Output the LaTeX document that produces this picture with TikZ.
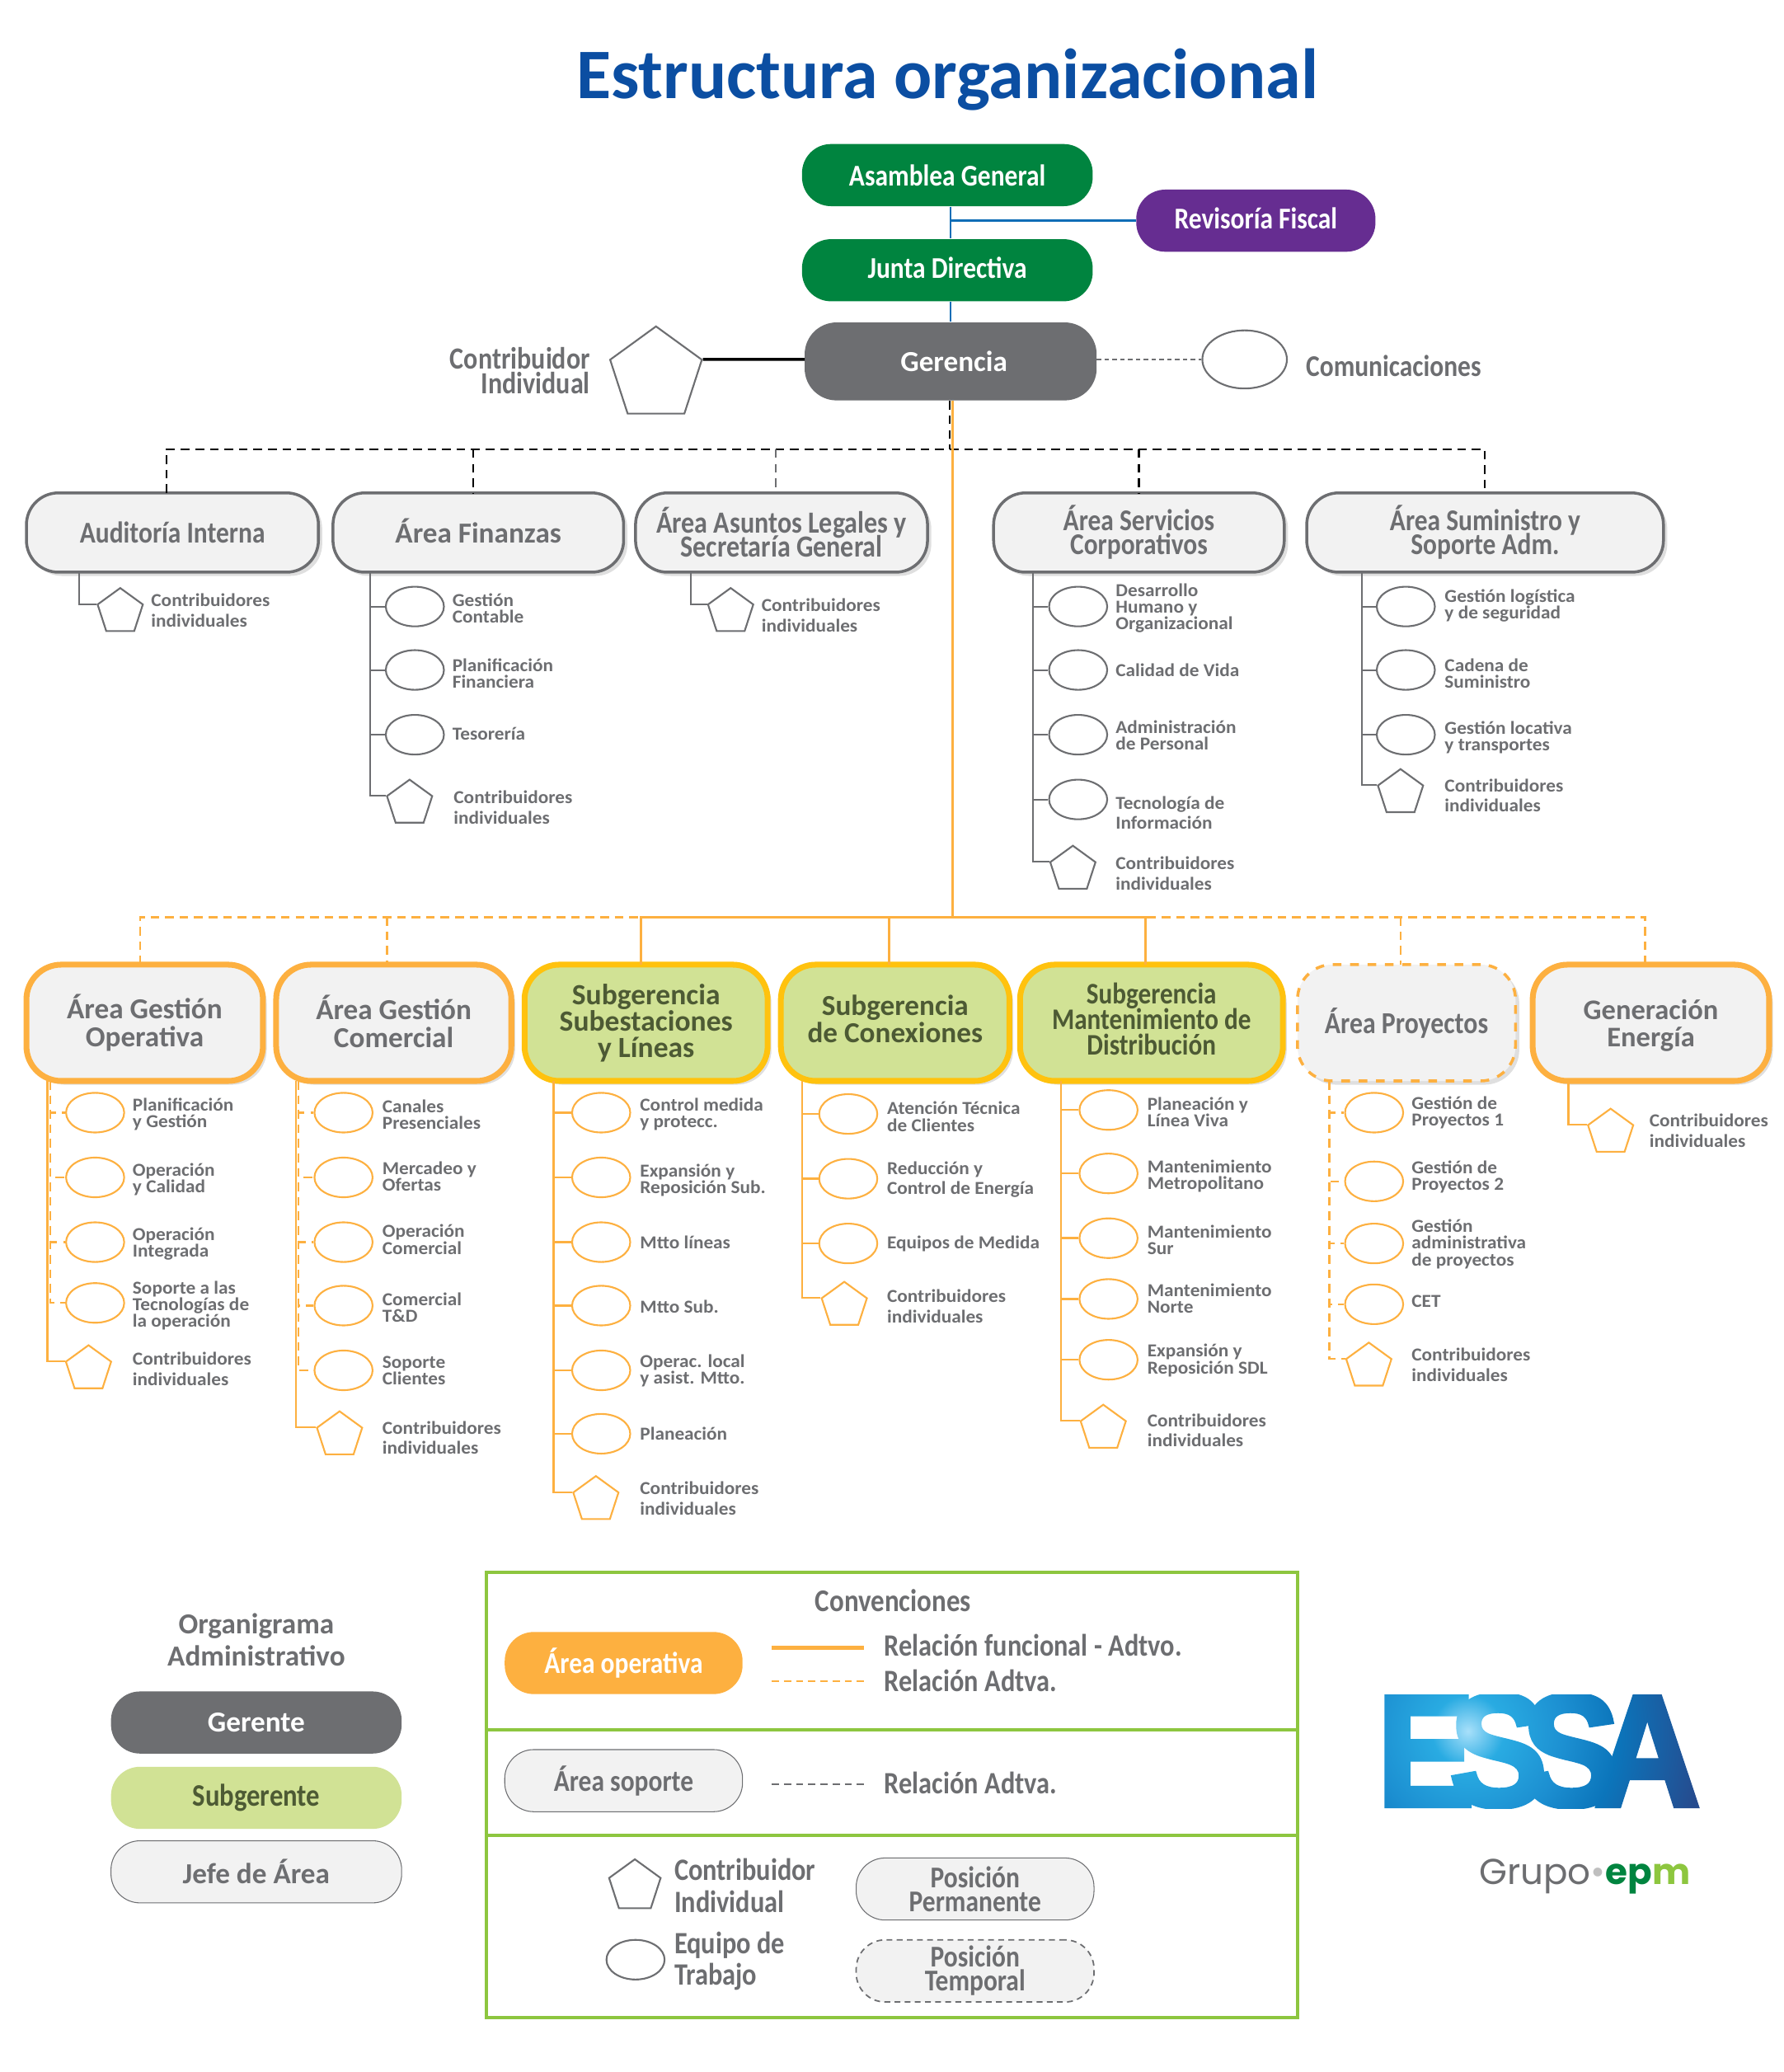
\documentclass[tikz,border=0pt]{standalone}
\usepackage{fontspec}
\setmainfont{Carlito}
\newfontfamily\slim[FakeStretch=0.86]{Carlito}
\newfontfamily\wide[FakeStretch=1.05]{Carlito}
\newfontfamily\essafont[FakeBold=3,FakeStretch=0.92,LetterSpace=-16]{Liberation Sans}
\newfontfamily\grupofont{Poppins}
\usetikzlibrary{shapes.geometric,shadows,fadings}
\definecolor{epmgreen}{HTML}{00843F}
\definecolor{purplefis}{HTML}{662D91}
\definecolor{greygen}{HTML}{6D6E71}
\definecolor{greyfill}{HTML}{F2F2F2}
\definecolor{orangeop}{HTML}{FDB040}
\definecolor{yellowsub}{HTML}{FFC20E}
\definecolor{greensub}{HTML}{D1E295}
\definecolor{olivetxt}{HTML}{4D5A34}
\definecolor{bluelink}{HTML}{0F6DB6}
\definecolor{bluetitle}{HTML}{0B4EA2}
\definecolor{greenconv}{HTML}{8DC63F}
\definecolor{essaa}{HTML}{A8E0FA}
\definecolor{essab}{HTML}{29ABE2}
\definecolor{essac}{HTML}{1C8FD1}
\definecolor{essad}{HTML}{0B75BB}
\definecolor{essae}{HTML}{264B8E}
\def\u{0.016cm}
\lineskiplimit=-20pt
\newcommand{\lblfont}{\wide\bfseries\fontsize{6.3}{5.7}\selectfont}
\newcommand{\topfont}{\slim\bfseries\fontsize{10.4}{8.2}\selectfont}
\newcommand{\plainfont}{\bfseries\fontsize{10}{8.2}\selectfont}
\newcommand{\areafont}{\bfseries\fontsize{10}{9.4}\selectfont}
\pgfdeclareradialshading{essashade}{\pgfpointorigin}{color(0bp)=(essaa);
  color(3.5bp)=(essab);color(9.5bp)=(essac);color(14.5bp)=(essad);color(23bp)=(essae);color(50bp)=(essae)}
\begin{tikzfadingfrompicture}[name=essafade]
  \node[text=transparent!0,inner sep=0pt] {\essafont\bfseries\fontsize{55}{55}\selectfont ESSA};
\end{tikzfadingfrompicture}
\tikzset{
  board/.style={rounded corners=10pt,minimum width=220*\u,minimum height=47*\u,inner sep=0pt,text=white,align=center,font=\topfont},
  softbox/.style={rounded corners=11pt,minimum height=60*\u,inner sep=0pt,fill=greyfill,draw=greygen,line width=1pt,align=center,text=greygen,font=\topfont,
    drop shadow={shadow xshift=1.3pt,shadow yshift=-1.3pt,opacity=.25,fill=gray}},
  areabox/.style={rounded corners=12pt,minimum height=88*\u,inner sep=0pt,fill=greyfill,draw=orangeop,line width=2pt,align=center,text=greygen,font=\areafont,
    drop shadow={shadow xshift=1.3pt,shadow yshift=-1.3pt,opacity=.25,fill=gray}},
  subbox/.style={areabox,fill=greensub,draw=yellowsub,text=olivetxt},
  tempbox/.style={areabox,draw=orangeop,line width=1pt,dashed},
  keypill/.style={rounded corners=10pt,minimum width=220*\u,minimum height=47*\u,inner sep=0pt,align=center,font=\topfont},
  team/.style={ellipse,minimum width=44*\u,minimum height=30*\u,inner sep=0pt,fill=white,draw=#1,line width=.6pt},
  contrib/.style={regular polygon,regular polygon sides=5,minimum size=36*\u,inner sep=0pt,fill=white,draw=#1,line width=.6pt},
  lbl/.style={anchor=west,align=left,inner sep=0pt,text=greygen,font=\lblfont},
  lblc/.style={lbl,font=\wide\bfseries\fontsize{6.3}{7}\selectfont},
  keytxt/.style={anchor=west,align=left,inner sep=0pt,text=greygen,font=\slim\bfseries\fontsize{10.7}{10.9}\selectfont},
  greyl/.style={draw=greygen,line width=.55pt},
  oral/.style={draw=orangeop,line width=.7pt},
  orad/.style={draw=orangeop,line width=.7pt,dash pattern=on 3pt off 2pt},
  blackd/.style={draw=black,line width=.6pt,dash pattern=on 3pt off 2pt}
}
\begin{document}
\begin{tikzpicture}[x=\u,y=-\u]
  \useasboundingbox (0,0) rectangle (1350,1568);
  \node[text=bluetitle,font=\bfseries\fontsize{24.5}{25}\selectfont,inner sep=0pt] (title) at (717,60) {Estructura organizacional};

  % direccion
  \node[board,fill=epmgreen] (asam) at (717,132.5) {Asamblea General};
  \node[board,fill=purplefis,minimum width=181*\u,text depth=1.8pt] (revi) at (950.5,167) {Revisoría Fiscal};
  \node[board,fill=epmgreen,text depth=1.8pt] (junta) at (717,204.5) {Junta Directiva};
  \node[board,fill=greygen,minimum width=221*\u,minimum height=59*\u,rounded corners=11pt,font=\areafont,text depth=0pt] (gere) at (719.5,273.5) {\hspace*{0.08cm}Gerencia};
  \draw[draw=bluelink,line width=.7pt] (asam.south -| gere.north) -- (junta.north -| gere.north);
  \draw[draw=bluelink,line width=.7pt] (junta.south -| gere.north) -- (gere.north);
  \draw[draw=bluelink,line width=1pt] (revi.west) -- (revi.west -| gere.north);
  \node[contrib=greygen,minimum size=73*\u] (contr) at (496.5,283.5) {};
  \coordinate (contrin) at (609,272);
  \draw[line width=1pt] (contr.corner 5) -- (contrin);
  \node[keytxt,anchor=east,align=right,font=\slim\bfseries\fontsize{10.6}{8.7}\selectfont] (contrl) at (447,280.5) {Contribuidor\\Individual};
  \node[team=greygen,minimum width=64*\u,minimum height=44*\u] (comu) at (942,272) {};
  \node[keytxt,font=\slim\bfseries\fontsize{10.4}{10}\selectfont] (comul) at (988,277) {Comunicaciones};
  \coordinate (comuout) at (830,272);
  \draw[greyl,dash pattern=on 1.6pt off 1.1pt] (comuout) -- (comu);

  % areas de soporte
  \node[softbox,minimum width=221*\u] (audi) at (130.5,403) {Auditoría Interna};
  \node[softbox,minimum width=220*\u,font=\plainfont,text depth=1.5pt] (fina) at (362,403) {Área Finanzas};
  \node[softbox,minimum width=221*\u,font=\slim\bfseries\fontsize{10.6}{8.2}\selectfont] (lega) at (591.5,403) {Área Asuntos Legales y\\Secretaría General};
  \node[softbox,minimum width=220*\u] (serv) at (862,403) {Área Servicios\\Corporativos};
  \node[softbox,minimum width=270*\u] (sumi) at (1124,403) {Área Suministro y\\Soporte Adm.};
  \coordinate (blkbus) at (719,340);
  \coordinate (auditop) at (126,373);
  \coordinate (sumitop) at (1124,373);
  \draw[blackd] (auditop) |- (blkbus) -| (sumitop);
  \draw[blackd] (gere.south -| blkbus) -- (blkbus);
  \coordinate (finatop) at (358,373);
  \coordinate (legatop) at (587,373);
  \coordinate (servtop) at (862,373);
  \draw[blackd] (finatop |- blkbus) -- (finatop);
  \draw[blackd,draw=greygen] (legatop |- blkbus) -- (legatop);
  \draw[blackd] (servtop |- blkbus) -- (servtop);

  \coordinate (audit) at (60,433);
  \node[contrib=greygen] (audc) at (91,463) {};
  \node[lblc] (audl) at (114,462) {Contribuidores\\individuales};
  \draw[greyl] (audit) |- (audc.corner 2);

  \coordinate (finat) at (280,433);
  \foreach \n/\y/\ty/\txt in {1/459/460.5/{Gestión\\Contable},2/507/509.5/{Planificación\\Financiera},3/556/555/{Tesorería}} {
    \node[team=greygen] (fin\n) at (314,\y) {};
    \node[lbl] (finl\n) at (342,\ty) {\txt};
    \draw[greyl] (finat) |- (fin\n);
  }
  \node[contrib=greygen] (finc) at (310,608) {};
  \node[lblc] (finlc) at (343,611) {Contribuidores\\individuales};
  \draw[greyl] (finat) |- (finc.corner 2);

  \coordinate (legat) at (523,433);
  \node[contrib=greygen] (legc) at (553,463) {};
  \node[lblc] (leglc) at (576,465.5) {Contribuidores\\individuales};
  \draw[greyl] (legat) |- (legc.corner 2);

  \coordinate (servt) at (782,433);
  \foreach \n/\y/\ty/\txt in {1/459/460.5/{Desarrollo\\Humano y\\Organizacional},2/507/507/{Calidad de Vida},3/556/556.5/{Administración\\de Personal},4/605/615/{Tecnología de\\[1.2pt]Información}} {
    \node[team=greygen] (ser\n) at (816,\y) {};
    \node[lbl] (serl\n) at (844,\ty) {\txt};
    \draw[greyl] (servt) |- (ser\n);
  }
  \node[contrib=greygen] (serc) at (812,658) {};
  \node[lblc] (serlc) at (844,661) {Contribuidores\\individuales};
  \draw[greyl] (servt) |- (serc.corner 2);

  \coordinate (sumit) at (1031,433);
  \foreach \n/\y/\ty/\txt in {1/459/458.5/{Gestión logística\\y de seguridad},2/507/509.5/{Cadena de\\Suministro},3/556/558/{Gestión locativa\\y transportes}} {
    \node[team=greygen] (sum\n) at (1064,\y) {};
    \node[lbl] (suml\n) at (1093,\ty) {\txt};
    \draw[greyl] (sumit) |- (sum\n);
  }
  \node[contrib=greygen] (sumc) at (1060,600) {};
  \node[lblc] (sumlc) at (1093,602) {Contribuidores\\individuales};
  \draw[greyl] (sumit) |- (sumc.corner 2);

  % areas operativas
  \node[areabox,minimum width=179*\u] (oper) at (109.5,774) {Área Gestión\\Operativa};
  \node[areabox,minimum width=178*\u,text depth=1pt] (come) at (298,774) {Área Gestión\\Comercial};
  \node[subbox,minimum width=184*\u,font=\bfseries\fontsize{10.1}{9.1}\selectfont] (subl) at (489,774) {Subgerencia\\Subestaciones\\y Líneas};
  \node[subbox,minimum width=173*\u,text depth=2.7pt] (conx) at (677.5,774) {Subgerencia\\de Conexiones};
  \node[subbox,minimum width=199*\u,font=\slim\bfseries\fontsize{10.3}{8.7}\selectfont,text depth=2.7pt] (mant) at (871.5,774) {Subgerencia\\Mantenimiento de\\Distribución};
  \node[tempbox,minimum width=165*\u,font=\slim\bfseries\fontsize{10.5}{9}\selectfont] (proy) at (1064.5,774) {Área Proyectos};
  \node[areabox,minimum width=179*\u,font=\bfseries\fontsize{9.8}{9.4}\selectfont,text depth=0pt] (gene) at (1249.5,774) {Generación\\Energía};

  \coordinate (orabus) at (721,694);
  \coordinate (oratop) at (721,303);
  \coordinate (opertop) at (106,730);
  \coordinate (cometop) at (293,730);
  \coordinate (subltop) at (485,730);
  \coordinate (conxtop) at (673,730);
  \coordinate (manttop) at (867,730);
  \coordinate (proytop) at (1060,730);
  \coordinate (genetop) at (1245,730);
  \draw[oral] (oratop) -- (orabus);
  \draw[oral] (subltop) |- (orabus) -| (manttop);
  \draw[oral] (conxtop |- orabus) -- (conxtop);
  \draw[orad] (opertop) |- (subltop |- orabus);
  \draw[orad] (cometop |- orabus) -- (cometop);
  \draw[orad] (genetop) |- (manttop |- orabus);
  \draw[orad] (proytop |- orabus) -- (proytop);

  \coordinate (opert) at (36,818);
  \coordinate (operd) at (38,818);
  \foreach \n/\y/\ty/\txt in {1/842/843.5/{Planificación\\y Gestión},2/891/892.5/{Operación\\y Calidad},3/940/941.5/{Operación\\Integrada},4/986/988/{Soporte a las\\Tecnologías de\\la operación}} {
    \node[team=orangeop] (ope\n) at (72,\y) {};
    \node[lbl] (opel\n) at (100,\ty) {\txt};
    \draw[orad] (operd) |- (ope\n);
  }
  \node[contrib=orangeop] (opec) at (67,1036) {};
  \node[lblc] (opelc) at (100,1036) {Contribuidores\\individuales};
  \draw[oral] (opert) |- (opec.corner 2);

  \coordinate (comet) at (224,818);
  \coordinate (comed) at (226,818);
  \foreach \n/\y/\ty/\txt in {1/842/843.5/{Canales\\Presenciales},2/891/890/{Mercadeo y\\Ofertas},3/940/938/{Operación\\Comercial},4/988/989.5/{Comercial\\T\&D},5/1037/1037/{Soporte\\Clientes}} {
    \node[team=orangeop] (com\n) at (260,\y) {};
    \node[lbl] (coml\n) at (289,\ty) {\txt};
    \draw[orad] (comed) |- (com\n);
  }
  \node[contrib=orangeop] (comc) at (257,1086) {};
  \node[lblc] (comlc) at (289,1088) {Contribuidores\\individuales};
  \draw[oral] (comet) |- (comc.corner 2);

  \coordinate (sublt) at (419,818);
  \foreach \n/\y/\ty/\txt in {1/842/843.5/{Control medida\\y protecc.},2/891/893/{Expansión y\\Reposición Sub.},3/940/940/{Mtto líneas},4/988/989/{Mtto Sub.},5/1037/1037/{Operac. local\\y asist. Mtto.},6/1085/1085/{Planeación}} {
    \node[team=orangeop] (sbl\n) at (455,\y) {};
    \node[lbl] (sbll\n) at (484,\ty) {\txt};
    \draw[oral] (sublt) |- (sbl\n);
  }
  \node[contrib=orangeop] (sblc) at (451,1135) {};
  \node[lblc] (sbllc) at (484,1134) {Contribuidores\\individuales};
  \draw[oral] (sublt) |- (sblc.corner 2);

  \coordinate (conxt) at (607,818);
  \foreach \n/\y/\ty/\txt in {1/843/845/{Atención Técnica\\de Clientes},2/892/892.5/{Reducción y\\[1pt]Control de Energía},3/941/941/{Equipos de Medida}} {
    \node[team=orangeop] (cnx\n) at (642,\y) {};
    \node[lbl] (cnxl\n) at (671,\ty) {\txt};
    \draw[oral] (conxt) |- (cnx\n);
  }
  \node[contrib=orangeop] (cnxc) at (639,988) {};
  \node[lblc] (cnxlc) at (671,988.5) {Contribuidores\\individuales};
  \draw[oral] (conxt) |- (cnxc.corner 2);

  \coordinate (mantt) at (803,818);
  \foreach \n/\y/\ty/\txt in {1/840/841.5/{Planeación y\\Línea Viva},2/888/890/{Mantenimiento\\Metropolitano},3/937/938.5/{Mantenimiento\\Sur},4/983/982.5/{Mantenimiento\\Norte},5/1029/1029.5/{Expansión y\\Reposición SDL}} {
    \node[team=orangeop] (mnt\n) at (839,\y) {};
    \node[lbl] (mntl\n) at (868,\ty) {\txt};
    \draw[oral] (mantt) |- (mnt\n);
  }
  \node[contrib=orangeop] (mntc) at (835,1081) {};
  \node[lblc] (mntlc) at (868,1082.5) {Contribuidores\\individuales};
  \draw[oral] (mantt) |- (mntc.corner 2);

  \coordinate (proyt) at (1006,818);
  \foreach \n/\y/\ty/\txt in {1/842/842/{Gestión de\\Proyectos 1},2/894/890.5/{Gestión de\\Proyectos 2},3/941/941.5/{Gestión\\administrativa\\de proyectos},4/987/985/{CET}} {
    \node[team=orangeop] (pry\n) at (1040,\y) {};
    \node[lbl] (pryl\n) at (1068,\ty) {\txt};
    \draw[orad] (proyt) |- (pry\n);
  }
  \node[contrib=orangeop] (pryc) at (1036,1034) {};
  \node[lblc] (prylc) at (1068,1033) {Contribuidores\\individuales};
  \draw[orad] (proyt) |- (pryc.corner 2);

  \coordinate (genet) at (1187,818);
  \node[contrib=orangeop] (genc) at (1219,857) {};
  \node[lblc] (genlc) at (1248,855.5) {Contribuidores\\individuales};
  \draw[oral] (genet) |- (genc.corner 2);

  % organigrama administrativo
  \node[align=center,inner sep=0pt,text=greygen,font=\bfseries\fontsize{10}{10.9}\selectfont] (orga) at (194,1241) {Organigrama\\Administrativo};
  \node[keypill,fill=greygen,text=white,font=\plainfont] (kgere) at (194,1303.5) {Gerente};
  \node[keypill,fill=greensub,text=olivetxt,font=\slim\bfseries\fontsize{10.8}{10}\selectfont] (ksubg) at (194,1360.5) {Subgerente};
  \node[keypill,fill=greyfill,draw=greygen,line width=.3pt,text=greygen,font=\plainfont] (kjefe) at (194,1416.5) {Jefe de Área};

  % convenciones
  \draw[draw=greenconv,line width=1.1pt] (368,1190) rectangle (982,1527);
  \draw[draw=greenconv,line width=1.1pt] (368,1309) -- (982,1309);
  \draw[draw=greenconv,line width=1.1pt] (368,1389) -- (982,1389);
  \node[text=greygen,inner sep=0pt,font=\slim\bfseries\fontsize{10.9}{10}\selectfont] (conv) at (676,1211) {Convenciones};
  \node[keypill,minimum width=180*\u,fill=orangeop,text=white] (kope) at (472,1258.5) {Área operativa};
  \node[keypill,minimum width=180*\u,fill=greyfill,draw=greygen,line width=.3pt,text=greygen] (ksop) at (472,1347.5) {Área soporte};
  \coordinate (l1a) at (584,1247); \coordinate (l1b) at (654,1247);
  \coordinate (l2a) at (584,1272); \coordinate (l2b) at (654,1272);
  \coordinate (l3a) at (584,1350); \coordinate (l3b) at (654,1350);
  \draw[draw=orangeop,line width=1.6pt] (l1a) -- (l1b);
  \draw[draw=orangeop,line width=.6pt,dash pattern=on 2.5pt off 1.7pt] (l2a) -- (l2b);
  \draw[draw=greygen,line width=.5pt,dash pattern=on 2.5pt off 1.7pt] (l3a) -- (l3b);
  \node[keytxt] (ktx1) at (669,1245) {Relación funcional - Adtvo.};
  \node[keytxt] (ktx2) at (669,1272) {Relación Adtva.};
  \node[keytxt] (ktx3) at (669,1349) {Relación Adtva.};
  \node[contrib=greygen,minimum size=41*\u] (kcon) at (480.5,1427.5) {};
  \node[keytxt] (kconl) at (510,1427) {Contribuidor\\Individual};
  \node[team=greygen] (kteam) at (481,1483) {};
  \node[keytxt] (kteaml) at (510,1484) {Equipo de\\Trabajo};
  \node[keypill,minimum width=180*\u,fill=greyfill,draw=greygen,line width=.3pt,text=greygen] (kperm) at (738,1429.5) {Posición\\Permanente};
  \node[keypill,minimum width=180*\u,fill=greyfill,draw=greygen,line width=.5pt,dash pattern=on 2pt off 1.5pt,text=greygen] (ktemp) at (738,1491.5) {Posición\\Temporal};

  % logo
  \shade[shading=essashade,path fading=essafade,fit fading=false,fading transform={shift={(1164.5,1325)}}] (1111,1310) circle (195);
  \node[anchor=west,inner sep=0pt,font=\grupofont\fontsize{12.4}{12}\selectfont] (grupo) at (1119,1420) {\textcolor{greygen}{Grupo}\textcolor{gray!50}{\textbullet}\textcolor{epmgreen}{\bfseries ep}\textcolor{greenconv}{\bfseries m}};
\end{tikzpicture}
\end{document}
